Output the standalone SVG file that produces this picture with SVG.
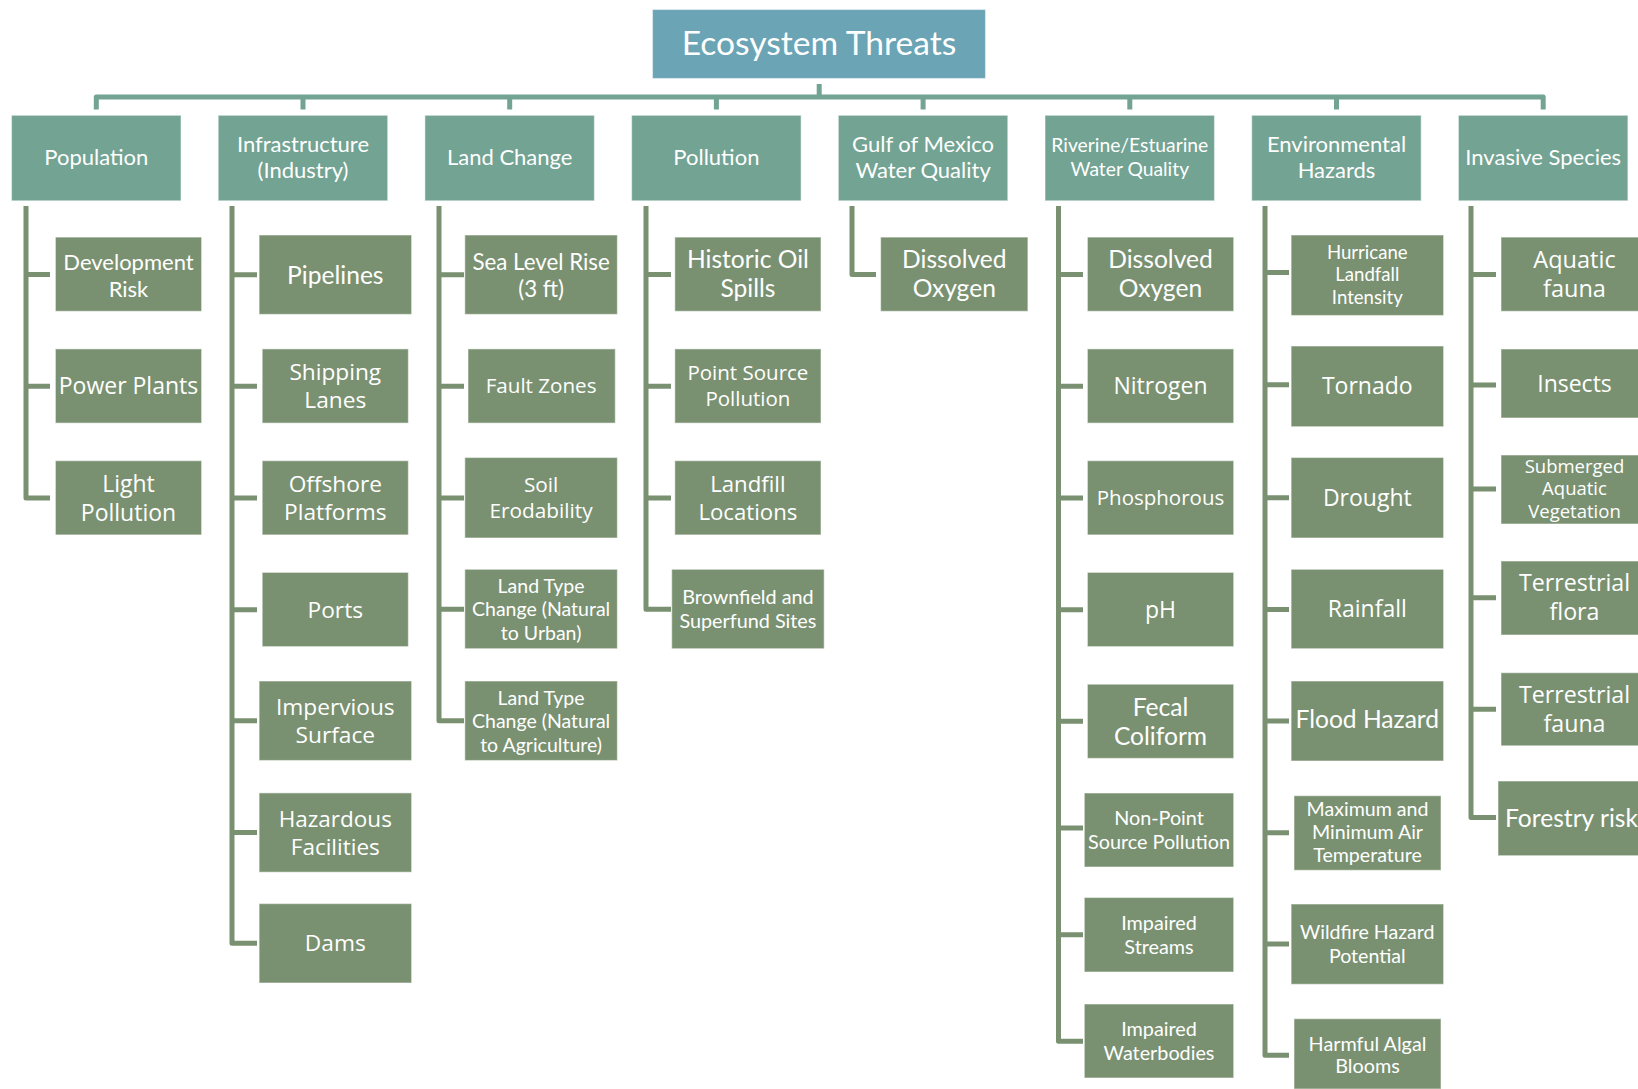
<svg xmlns="http://www.w3.org/2000/svg" width="1638" height="1089" viewBox="0 0 1638 1089">
  <style>
    .root { fill: #6AA4B5; stroke: #ffffff; stroke-opacity: 0.45; stroke-width: 1.2; }
    .head { fill: #72A393; stroke: #ffffff; stroke-opacity: 0.45; stroke-width: 1.2; }
    .item { fill: #7A9171; stroke: #ffffff; stroke-opacity: 0.45; stroke-width: 1.2; }
    text { fill: #ffffff; text-anchor: middle; }
    .ca { font-family: "Lato", "Liberation Sans", sans-serif; }
    .se { font-family: "Open Sans", "Noto Sans", sans-serif; }
    .bus { fill: none; stroke: #72A393; stroke-width: 5; stroke-linejoin: round; }
    .branch { fill: none; stroke: #7A9171; stroke-width: 5; stroke-linejoin: round; }
  </style>

  <!-- connectors -->
  <g id="connectors">
    <path class="bus" d="M819.2 84 V97 M96.3 109.5 V97 H1543.2 V109.5 M303 97 V109.5 M509.7 97 V109.5 M716.4 97 V109.5 M923.1 97 V109.5 M1129.8 97 V109.5 M1336.5 97 V109.5"/>
    <path class="branch" d="M26 206 V498 H50 M26 274.5 H50 M26 386.3 H50"/>
    <path class="branch" d="M232 206 V943.3 H257 M232 274.7 H257 M232 386.3 H257 M232 498 H257 M232 609.7 H257 M232 720.8 H257 M232 832.5 H257"/>
    <path class="branch" d="M439 206 V720.8 H464 M439 274.7 H464 M439 386.3 H464 M439 498 H464 M439 609.2 H464"/>
    <path class="branch" d="M646 206 V609.2 H671 M646 274.5 H671 M646 386.3 H671 M646 498 H671"/>
    <path class="branch" d="M852 206 V274.5 H876"/>
    <path class="branch" d="M1058.5 206 V1041.3 H1083 M1058.5 274.5 H1083 M1058.5 386.3 H1083 M1058.5 498 H1083 M1058.5 609.7 H1083 M1058.5 721.3 H1083 M1058.5 828 H1083 M1058.5 934.7 H1083"/>
    <path class="branch" d="M1265 206 V1055.3 H1289 M1265 272.5 H1289 M1265 384.8 H1289 M1265 497.8 H1289 M1265 609.5 H1289 M1265 721 H1289 M1265 832.7 H1289 M1265 944 H1289"/>
    <path class="branch" d="M1471 206 V817.5 H1496 M1471 274.5 H1496 M1471 385 H1496 M1471 489 H1496 M1471 597.7 H1496 M1471 709.3 H1496"/>
  </g>

  <!-- root -->
  <g id="ecosystem-threats">
    <rect class="root" x="652.5" y="9.5" width="333" height="69"/>
    <text class="ca" font-size="33.6" x="819" y="54.5">Ecosystem Threats</text>
  </g>

  <!-- category row -->
  <g id="population">
    <rect class="head" x="11.5" y="115.3" width="169.5" height="85.5"/>
    <text class="ca" font-size="22" x="96.3" y="165.2">Population</text>
  </g>
  <g id="infrastructure">
    <rect class="head" x="218.2" y="115.3" width="169.5" height="85.5"/>
    <text class="ca" font-size="22"><tspan x="303" y="152">Infrastructure</tspan><tspan x="303" y="177.5">(Industry)</tspan></text>
  </g>
  <g id="land-change">
    <rect class="head" x="424.9" y="115.3" width="169.5" height="85.5"/>
    <text class="ca" font-size="22" x="509.7" y="165.2">Land Change</text>
  </g>
  <g id="pollution">
    <rect class="head" x="631.6" y="115.3" width="169.5" height="85.5"/>
    <text class="ca" font-size="22" x="716.4" y="165.2">Pollution</text>
  </g>
  <g id="gulf-water-quality">
    <rect class="head" x="838.3" y="115.3" width="169.5" height="85.5"/>
    <text class="ca" font-size="22"><tspan x="923.1" y="152">Gulf of Mexico</tspan><tspan x="923.1" y="177.5">Water Quality</tspan></text>
  </g>
  <g id="riverine-water-quality">
    <rect class="head" x="1045" y="115.3" width="169.5" height="85.5"/>
    <text class="ca" font-size="19.3"><tspan x="1129.8" y="151.5">Riverine/Estuarine</tspan><tspan x="1129.8" y="175.5">Water Quality</tspan></text>
  </g>
  <g id="environmental-hazards">
    <rect class="head" x="1251.7" y="115.3" width="169.5" height="85.5"/>
    <text class="ca" font-size="22"><tspan x="1336.5" y="152">Environmental</tspan><tspan x="1336.5" y="177.5">Hazards</tspan></text>
  </g>
  <g id="invasive-species">
    <rect class="head" x="1458.4" y="115.3" width="169.5" height="85.5"/>
    <text class="ca" font-size="22" x="1543.2" y="165.2">Invasive Species</text>
  </g>

  <!-- Population -->
  <g id="development-risk">
    <rect class="item" x="55.4" y="237.1" width="146.2" height="74.2"/>
    <text class="ca" font-size="22"><tspan x="128.5" y="269.5">Development</tspan><tspan x="128.5" y="296.5">Risk</tspan></text>
  </g>
  <g id="power-plants">
    <rect class="item" x="55.4" y="348.9" width="146.2" height="74.2"/>
    <text class="se" font-size="23" x="128.5" y="394.3">Power Plants</text>
  </g>
  <g id="light-pollution">
    <rect class="item" x="55.4" y="460.7" width="146.2" height="74.2"/>
    <text class="se" font-size="23"><tspan x="128.5" y="491.5">Light</tspan><tspan x="128.5" y="520.5">Pollution</tspan></text>
  </g>

  <!-- Infrastructure -->
  <g id="pipelines">
    <rect class="item" x="259.1" y="235" width="152.5" height="79.4"/>
    <text class="ca" font-size="24.6" x="335.3" y="283.5">Pipelines</text>
  </g>
  <g id="shipping-lanes">
    <rect class="item" x="262.2" y="348.9" width="146.2" height="74.2"/>
    <text class="se" font-size="22.7"><tspan x="335.3" y="380">Shipping</tspan><tspan x="335.3" y="408">Lanes</tspan></text>
  </g>
  <g id="offshore-platforms">
    <rect class="item" x="262.2" y="460.7" width="146.2" height="74.2"/>
    <text class="se" font-size="22.7"><tspan x="335.3" y="491.8">Offshore</tspan><tspan x="335.3" y="519.8">Platforms</tspan></text>
  </g>
  <g id="ports">
    <rect class="item" x="262.2" y="572.4" width="146.2" height="74.2"/>
    <text class="se" font-size="22.7" x="335.3" y="617.5">Ports</text>
  </g>
  <g id="impervious-surface">
    <rect class="item" x="259.1" y="681" width="152.5" height="79.5"/>
    <text class="se" font-size="22.7"><tspan x="335.3" y="714.8">Impervious</tspan><tspan x="335.3" y="742.8">Surface</tspan></text>
  </g>
  <g id="hazardous-facilities">
    <rect class="item" x="259.1" y="792.9" width="152.5" height="79.3"/>
    <text class="se" font-size="22.5"><tspan x="335.3" y="826.5">Hazardous</tspan><tspan x="335.3" y="854.5">Facilities</tspan></text>
  </g>
  <g id="dams">
    <rect class="item" x="259.1" y="903.6" width="152.5" height="79.4"/>
    <text class="se" font-size="22.7" x="335.3" y="951.3">Dams</text>
  </g>

  <!-- Land Change -->
  <g id="sea-level-rise">
    <rect class="item" x="464.8" y="235" width="152.6" height="79.4"/>
    <text class="ca" font-size="22.3"><tspan x="541.1" y="270">Sea Level Rise</tspan><tspan x="541.1" y="296.5">(3 ft)</tspan></text>
  </g>
  <g id="fault-zones">
    <rect class="item" x="468" y="348.9" width="147.3" height="74.2"/>
    <text class="se" font-size="20.6" x="541.1" y="393.3">Fault Zones</text>
  </g>
  <g id="soil-erodability">
    <rect class="item" x="464.8" y="457.5" width="152.6" height="80.5"/>
    <text class="se" font-size="20.8"><tspan x="541.1" y="492">Soil</tspan><tspan x="541.1" y="518">Erodability</tspan></text>
  </g>
  <g id="land-type-urban">
    <rect class="item" x="464.8" y="569.3" width="152.6" height="79.4"/>
    <text class="ca" font-size="19.5"><tspan x="541.1" y="592.9">Land Type</tspan><tspan x="541.1" y="616.4">Change (Natural</tspan><tspan x="541.1" y="639.9">to Urban)</tspan></text>
  </g>
  <g id="land-type-agriculture">
    <rect class="item" x="464.8" y="681" width="152.6" height="79.5"/>
    <text class="ca" font-size="19.5"><tspan x="541.1" y="704.7">Land Type</tspan><tspan x="541.1" y="728.2">Change (Natural</tspan><tspan x="541.1" y="751.7">to Agriculture)</tspan></text>
  </g>

  <!-- Pollution -->
  <g id="historic-oil-spills">
    <rect class="item" x="674.8" y="237.1" width="146.2" height="74.2"/>
    <text class="ca" font-size="24.6"><tspan x="747.9" y="268">Historic Oil</tspan><tspan x="747.9" y="297">Spills</tspan></text>
  </g>
  <g id="point-source-pollution">
    <rect class="item" x="674.8" y="348.9" width="146.2" height="74.2"/>
    <text class="se" font-size="20.5"><tspan x="747.9" y="380">Point Source</tspan><tspan x="747.9" y="406">Pollution</tspan></text>
  </g>
  <g id="landfill-locations">
    <rect class="item" x="674.8" y="460.7" width="146.2" height="74.2"/>
    <text class="se" font-size="22.2"><tspan x="747.9" y="491.5">Landfill</tspan><tspan x="747.9" y="519.8">Locations</tspan></text>
  </g>
  <g id="brownfield-superfund">
    <rect class="item" x="671.7" y="569.3" width="152.5" height="79.4"/>
    <text class="ca" font-size="19.8"><tspan x="747.9" y="603.5">Brownfield and</tspan><tspan x="747.9" y="627.5">Superfund Sites</tspan></text>
  </g>

  <!-- Gulf of Mexico Water Quality -->
  <g id="gulf-dissolved-oxygen">
    <rect class="item" x="880.6" y="237.1" width="147.3" height="74.2"/>
    <text class="ca" font-size="24.6"><tspan x="954.3" y="268">Dissolved</tspan><tspan x="954.3" y="297">Oxygen</tspan></text>
  </g>

  <!-- Riverine/Estuarine Water Quality -->
  <g id="riverine-dissolved-oxygen">
    <rect class="item" x="1087.4" y="237.1" width="146.3" height="74.2"/>
    <text class="ca" font-size="24.6"><tspan x="1160.5" y="268">Dissolved</tspan><tspan x="1160.5" y="297">Oxygen</tspan></text>
  </g>
  <g id="nitrogen">
    <rect class="item" x="1087.4" y="348.9" width="146.3" height="74.2"/>
    <text class="se" font-size="23" x="1160.5" y="394.2">Nitrogen</text>
  </g>
  <g id="phosphorous">
    <rect class="item" x="1087.4" y="460.7" width="146.3" height="74.2"/>
    <text class="se" font-size="20.5" x="1160.5" y="505">Phosphorous</text>
  </g>
  <g id="ph">
    <rect class="item" x="1087.4" y="572.4" width="146.3" height="74.2"/>
    <text class="se" font-size="23" x="1160.5" y="617.5">pH</text>
  </g>
  <g id="fecal-coliform">
    <rect class="item" x="1087.4" y="684.2" width="146.3" height="74.2"/>
    <text class="ca" font-size="24.6"><tspan x="1160.5" y="715.5">Fecal</tspan><tspan x="1160.5" y="744.5">Coliform</tspan></text>
  </g>
  <g id="non-point-source-pollution">
    <rect class="item" x="1084.3" y="793" width="149.4" height="74"/>
    <text class="ca" font-size="19.8"><tspan x="1159" y="825">Non-Point</tspan><tspan x="1159" y="848.5">Source Pollution</tspan></text>
  </g>
  <g id="impaired-streams">
    <rect class="item" x="1084.3" y="897.5" width="149.4" height="74.5"/>
    <text class="ca" font-size="19.8"><tspan x="1159" y="930">Impaired</tspan><tspan x="1159" y="954">Streams</tspan></text>
  </g>
  <g id="impaired-waterbodies">
    <rect class="item" x="1084.3" y="1004" width="149.4" height="74"/>
    <text class="ca" font-size="19.8"><tspan x="1159" y="1035.5">Impaired</tspan><tspan x="1159" y="1059.5">Waterbodies</tspan></text>
  </g>

  <!-- Environmental Hazards -->
  <g id="hurricane-landfall-intensity">
    <rect class="item" x="1291.1" y="235" width="152.5" height="80.5"/>
    <text class="ca" font-size="18.6"><tspan x="1367.3" y="258.5">Hurricane</tspan><tspan x="1367.3" y="281">Landfall</tspan><tspan x="1367.3" y="303.5">Intensity</tspan></text>
  </g>
  <g id="tornado">
    <rect class="item" x="1291.1" y="346" width="152.5" height="80.7"/>
    <text class="se" font-size="23" x="1367.3" y="394.3">Tornado</text>
  </g>
  <g id="drought">
    <rect class="item" x="1291.1" y="457.5" width="152.5" height="80.5"/>
    <text class="se" font-size="23" x="1367.3" y="505.8">Drought</text>
  </g>
  <g id="rainfall">
    <rect class="item" x="1291.1" y="569.3" width="152.5" height="79.4"/>
    <text class="se" font-size="23" x="1367.3" y="617">Rainfall</text>
  </g>
  <g id="flood-hazard">
    <rect class="item" x="1291.1" y="681" width="152.5" height="80"/>
    <text class="ca" font-size="24.6" x="1367.3" y="728.3">Flood Hazard</text>
  </g>
  <g id="air-temperature">
    <rect class="item" x="1294" y="795.7" width="147" height="74.6"/>
    <text class="ca" font-size="19.6"><tspan x="1367.5" y="816">Maximum and</tspan><tspan x="1367.5" y="839">Minimum Air</tspan><tspan x="1367.5" y="862">Temperature</tspan></text>
  </g>
  <g id="wildfire-hazard-potential">
    <rect class="item" x="1291.1" y="904" width="152.5" height="80.3"/>
    <text class="ca" font-size="19.6"><tspan x="1367.3" y="939">Wildfire Hazard</tspan><tspan x="1367.3" y="962.5">Potential</tspan></text>
  </g>
  <g id="harmful-algal-blooms">
    <rect class="item" x="1294" y="1018.7" width="147" height="70.3"/>
    <text class="ca" font-size="19.8"><tspan x="1367.5" y="1050.7">Harmful Algal</tspan><tspan x="1367.5" y="1073.3">Blooms</tspan></text>
  </g>

  <!-- Invasive Species -->
  <g id="aquatic-fauna">
    <rect class="item" x="1501" y="237.1" width="147" height="74.2"/>
    <text class="se" font-size="23.5"><tspan x="1574.5" y="267.5">Aquatic</tspan><tspan x="1574.5" y="297">fauna</tspan></text>
  </g>
  <g id="insects">
    <rect class="item" x="1501" y="349" width="147" height="69"/>
    <text class="se" font-size="23" x="1574.5" y="391.5">Insects</text>
  </g>
  <g id="submerged-aquatic-vegetation">
    <rect class="item" x="1501" y="455" width="147" height="69"/>
    <text class="se" font-size="18.5"><tspan x="1574.5" y="472.5">Submerged</tspan><tspan x="1574.5" y="495">Aquatic</tspan><tspan x="1574.5" y="518">Vegetation</tspan></text>
  </g>
  <g id="terrestrial-flora">
    <rect class="item" x="1501" y="561" width="147" height="74"/>
    <text class="se" font-size="23.2"><tspan x="1574.5" y="591">Terrestrial</tspan><tspan x="1574.5" y="620">flora</tspan></text>
  </g>
  <g id="terrestrial-fauna">
    <rect class="item" x="1501" y="672.7" width="147" height="73.1"/>
    <text class="se" font-size="23.2"><tspan x="1574.5" y="702.5">Terrestrial</tspan><tspan x="1574.5" y="731.5">fauna</tspan></text>
  </g>
  <g id="forestry-risk">
    <rect class="item" x="1498" y="781" width="147" height="74.7"/>
    <text class="ca" font-size="24.6" x="1571.5" y="827">Forestry risk</text>
  </g>
</svg>
